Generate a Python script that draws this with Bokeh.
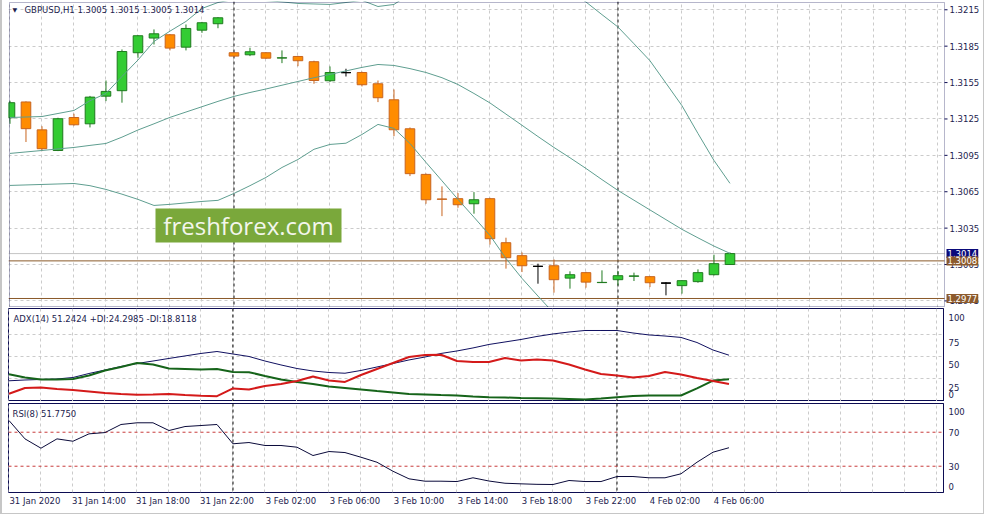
import numpy as np
import pandas as pd
from bokeh.plotting import figure
from bokeh.layouts import column
from bokeh.models import (Range1d, FixedTicker, Span, Label, BoxAnnotation,
                          ColumnDataSource)
from bokeh.embed import file_html
from bokeh.resources import INLINE

# ---------------- data ----------------
times = (list(pd.date_range("2020-01-31 10:00", "2020-01-31 23:00", freq="h")) +
         list(pd.date_range("2020-02-03 00:00", "2020-02-04 07:00", freq="h")))

opens = [1.31260, 1.31390, 1.31160, 1.30990, 1.31262, 1.31210, 1.31438, 1.31483, 1.31796, 1.31917,
         1.31944, 1.31842, 1.31982, 1.32035, 1.31796, 1.31779, 1.31796, 1.31752, 1.31765, 1.31722,
         1.31565, 1.31632, 1.31633, 1.31540, 1.31408, 1.31169, 1.30793, 1.30590, 1.30593, 1.30551,
         1.30593, 1.30230, 1.30123, 1.30035, 1.30040, 1.29938, 1.29983, 1.29901, 1.29925, 1.29953,
         1.29950, 1.29897, 1.29876, 1.29909, 1.29966, 1.30050]
highs = [1.31400, 1.31395, 1.31190, 1.31260, 1.31293, 1.31440, 1.31567, 1.31823, 1.31940, 1.31988,
         1.31950, 1.32029, 1.32050, 1.32090, 1.31800, 1.31837, 1.31800, 1.31815, 1.31770, 1.31730,
         1.31683, 1.31664, 1.31640, 1.31567, 1.31493, 1.31180, 1.30800, 1.30694, 1.30639, 1.30647,
         1.30600, 1.30271, 1.30150, 1.30057, 1.30092, 1.29994, 1.29990, 1.30002, 1.29996, 1.29983,
         1.29955, 1.29905, 1.29920, 1.30010, 1.30131, 1.30150]
lows = [1.31210, 1.31060, 1.30985, 1.30985, 1.31195, 1.31180, 1.31397, 1.31384, 1.31754, 1.31864,
        1.31815, 1.31815, 1.31960, 1.31998, 1.31760, 1.31768, 1.31745, 1.31710, 1.31685, 1.31540,
        1.31555, 1.31600, 1.31518, 1.31389, 1.31108, 1.30779, 1.30551, 1.30449, 1.30518, 1.30469,
        1.30214, 1.30016, 1.29988, 1.29892, 1.29818, 1.29851, 1.29859, 1.29900, 1.29878, 1.29914,
        1.29864, 1.29796, 1.29810, 1.29900, 1.29960, 1.30050]
closes = [1.31384, 1.31170, 1.31005, 1.31252, 1.31202, 1.31430, 1.31477, 1.31806, 1.31936, 1.31952,
          1.31834, 1.31996, 1.32043, 1.32084, 1.31768, 1.31804, 1.31751, 1.31754, 1.31730, 1.31567,
          1.31633, 1.31632, 1.31532, 1.31425, 1.31161, 1.30799, 1.30584, 1.30588, 1.30543, 1.30584,
          1.30263, 1.30106, 1.30040, 1.30035, 1.29925, 1.29966, 1.29905, 1.29903, 1.29958, 1.29956,
          1.29900, 1.29897, 1.29917, 1.29983, 1.30057, 1.30140]

bb_upper = [1.31262, 1.31266, 1.31270, 1.31295, 1.31320, 1.31400, 1.31460, 1.31600, 1.31736, 1.31889,
            1.31974, 1.32054, 1.32161, 1.32210, 1.32236, 1.32232, 1.32226, 1.32215, 1.32202, 1.32198,
            1.32194, 1.32210, 1.32228, 1.32177, 1.32194, 1.32282, 1.32374, 1.32430, 1.32481, 1.32480,
            1.32474, 1.32467, 1.32460, 1.32420, 1.32383, 1.32300, 1.32214, 1.32110, 1.32008, 1.31870,
            1.31730, 1.31545, 1.31359, 1.31130, 1.30908, 1.30719]
bb_middle = [1.30966, 1.30978, 1.30990, 1.31003, 1.31015, 1.31032, 1.31048, 1.31100, 1.31159, 1.31210,
             1.31263, 1.31307, 1.31351, 1.31395, 1.31436, 1.31468, 1.31497, 1.31528, 1.31559, 1.31590,
             1.31617, 1.31646, 1.31675, 1.31699, 1.31691, 1.31665, 1.31633, 1.31590, 1.31534, 1.31460,
             1.31382, 1.31290, 1.31198, 1.31105, 1.31015, 1.30930, 1.30842, 1.30750, 1.30661, 1.30580,
             1.30500, 1.30420, 1.30340, 1.30270, 1.30202, 1.30142]
bb_lower = [1.30702, 1.30706, 1.30710, 1.30714, 1.30718, 1.30700, 1.30669, 1.30630, 1.30587, 1.30537,
            1.30546, 1.30558, 1.30570, 1.30579, 1.30636, 1.30700, 1.30768, 1.30850, 1.30916, 1.31000,
            1.31040, 1.31050, 1.31122, 1.31205, 1.31172, 1.31048, 1.30892, 1.30740, 1.30587, 1.30440,
            1.30290, 1.30100, 1.29936, 1.29790, 1.29647, 1.29560, 1.29470, 1.29390, 1.29314, 1.29290,
            1.29270, 1.29295, 1.29321, 1.29410, 1.29496, 1.29565]

adx = [22.5, 23.4, 24.0, 24.5, 26.2, 30.7, 34.6, 38.6, 41.9, 44.7,
       47.6, 50.4, 53.2, 55.4, 52.6, 49.8, 44.7, 40.3, 36.3, 33.5,
       31.8, 31.0, 34.1, 38.0, 41.9, 45.9, 49.2, 53.2, 56.0, 59.4,
       63.3, 66.1, 68.9, 72.3, 75.1, 77.3, 79.0, 79.0, 79.0, 76.2,
       74.0, 72.8, 71.2, 65.5, 57.1, 51.2424]
plus_di = [29.9, 26.2, 24.0, 24.0, 24.5, 28.5, 34.1, 38.0, 42.5, 40.8,
           36.3, 35.8, 35.2, 35.8, 32.4, 32.2, 27.9, 24.0, 21.2, 18.9,
           16.1, 14.4, 12.7, 11.0, 9.4, 7.7, 7.1, 6.5, 6.0, 4.9,
           4.1, 3.7, 3.2, 2.9, 2.6, 2.1, 1.5, 2.6, 4.1, 5.4,
           6.0, 6.0, 6.0, 13.9, 22.8, 24.2985]
minus_di = [7.9, 14.4, 15.0, 13.3, 12.2, 10.5, 8.8, 7.7, 6.8, 7.1,
            7.7, 6.5, 5.6, 5.2, 13.9, 12.7, 16.7, 18.9, 22.3, 27.3,
            22.8, 21.2, 29.0, 35.8, 42.5, 49.2, 51.5, 51.7, 44.7, 43.6,
            43.6, 48.1, 45.3, 46.4, 45.3, 40.8, 35.2, 30.1, 28.5, 26.2,
            27.9, 32.4, 29.6, 25.6, 22.3, 18.8118]
rsi = [83.8, 62.2, 51.2, 62.2, 59.4, 68.1, 69.6, 79.1, 81.1, 81.1,
       72.0, 76.7, 77.9, 79.1, 56.4, 57.9, 54.4, 54.4, 52.4, 42.6,
       47.3, 46.1, 40.6, 34.7, 24.1, 15.2, 12.4, 12.4, 12.0, 16.4,
       12.6, 10.0, 9.3, 8.7, 8.5, 13.2, 12.0, 12.0, 17.9, 17.9,
       16.4, 16.4, 21.1, 34.7, 46.5, 51.775]

price_ticks = [1.2975, 1.3005, 1.3035, 1.3065, 1.3095, 1.3125, 1.3155, 1.3185, 1.3215]
levels = [1.3008, 1.2977]
adx_tick_labels = ["100", "75", "50", "25", "0"]
adx_grid_values = [25, 50, 75]
rsi_tick_labels = ["100", "70", "30", "0"]
rsi_levels = [70, 30]

# ---------------- style ----------------
NAVY = "#0c0c52"
TEXT = "#1c1c4e"
GRID = "#cbcbcb"
FONT = "DejaVu Sans"
FS = "8.5px"
BULL_FILL, BULL_LINE = "#33cc33", "#1f7a1f"
BEAR_FILL, BEAR_LINE = "#ff8c00", "#c8641e"
DOJI = "#000000"
BAND = "#5f9e90"
LEVEL = "#8a5a2a"

FRAME_W = 935          # width of every panel frame (px)
BAR_PX = 16            # px per bar
x0 = -0.03             # bar value at the frame's left edge
x_edge = x0 + FRAME_W / BAR_PX
PX_PRICE = 12130.0     # px per price unit in main panel
main_top, main_bot = 1.32210, 1.29704   # price at frame top / bottom

n = len(opens)
idx = np.arange(n)
o = np.array(opens); h = np.array(highs); l = np.array(lows); c = np.array(closes)
up = c > o
down = c < o
fill = np.where(up, BULL_FILL, np.where(down, BEAR_FILL, DOJI))
line = np.where(up, BULL_LINE, np.where(down, BEAR_LINE, DOJI))

src = ColumnDataSource(dict(x=idx, o=o, h=h, l=l, c=c,
                            top=np.maximum(o, c), bottom=np.minimum(o, c),
                            fill=fill, line=line))
doji_mask = (o == c)
dsrc = ColumnDataSource(dict(x0=idx[doji_mask] - 0.3, x1=idx[doji_mask] + 0.3, y=o[doji_mask]))

day_starts = [i for i in range(1, n) if times[i].date() != times[i - 1].date()]
grid_bars = list(range(0, 59, 2))


def style_axis(ax):
    ax.axis_line_color = NAVY
    ax.major_tick_line_color = None
    ax.major_tick_in = 0
    ax.major_tick_out = 3
    ax.minor_tick_line_color = None
    ax.major_label_standoff = 2
    ax.major_label_text_font = FONT
    ax.major_label_text_font_size = FS
    ax.major_label_text_color = TEXT


def add_grid_and_days(p):
    p.xgrid.ticker = FixedTicker(ticks=grid_bars)
    p.xgrid.grid_line_color = GRID
    p.xgrid.grid_line_dash = "3 3"
    p.ygrid.grid_line_color = GRID
    p.ygrid.grid_line_dash = "3 3"
    for k in day_starts:
        p.add_layout(Span(location=k, dimension="height", line_color="black",
                          line_dash="3 3", line_width=1, level="underlay"))


# ---------------- main price panel (frame spans the price scale too) ----------------
pad_y = 1 / PX_PRICE
MAIN_W = 976
p1 = figure(frame_width=MAIN_W, frame_height=306,
            x_range=Range1d(x0 - 1 / BAR_PX, x0 - 1 / BAR_PX + MAIN_W / BAR_PX),
            y_range=Range1d(main_bot - pad_y, main_top + pad_y),
            output_backend="svg", toolbar_location=None,
            x_axis_location=None, y_axis_location=None,
            min_border_left=5, min_border_right=0, min_border_top=1, min_border_bottom=0,
            background_fill_color="white", border_fill_color="white", outline_line_color=None)
add_grid_and_days(p1)
p1.ygrid.ticker = FixedTicker(ticks=price_ticks)

p1.add_layout(BoxAnnotation(left=x0 + 146 / BAR_PX, right=x0 + 332 / BAR_PX,
                            bottom=1.30232, top=1.30512, fill_color="#7aa83b",
                            fill_alpha=1, line_color=None, level="underlay"))
p1.add_layout(Label(x=x0 + 239 / BAR_PX, y=1.30372, text="freshforex.com",
                    text_font="Open Sans", text_font_size="24px", text_color="#f3f6ec",
                    text_align="center", text_baseline="middle"))

p1.add_layout(Span(location=closes[-1], dimension="width", line_color="#c4c4c4",
                   line_width=1, level="underlay"))
for lv in levels:
    p1.add_layout(Span(location=lv, dimension="width", line_color=LEVEL,
                       line_width=1, level="underlay"))
# blank price-scale area to the right of the frame
p1.add_layout(BoxAnnotation(left=x_edge, fill_color="white", fill_alpha=1,
                            line_color=None, level="underlay"))

p1.segment(x0="x", y0="h", x1="x", y1="l", color="line", line_width=1, source=src)
p1.vbar(x="x", top="top", bottom="bottom", width=0.6, fill_color="fill",
        line_color="line", line_width=1, source=src)
p1.segment(x0="x0", y0="y", x1="x1", y1="y", color=DOJI, line_width=1, source=dsrc)

for band in (bb_upper, bb_middle, bb_lower):
    p1.line(idx, band, line_color=BAND, line_width=1)

# frame border of the price panel
p1.add_layout(BoxAnnotation(left=x0, right=x_edge, bottom=main_bot, top=main_top,
                            fill_color=None, line_color=NAVY, line_width=1, level="overlay"))

# price scale: tick marks and labels
p1.segment(x0=[x_edge] * len(price_ticks), x1=[x_edge + 3 / BAR_PX] * len(price_ticks),
           y0=price_ticks, y1=price_ticks, color=NAVY, line_width=1)
for t in price_ticks:
    p1.add_layout(Label(x=x_edge + 5 / BAR_PX, y=t, text="{:.4f}".format(t), text_font=FONT,
                        text_font_size=FS, text_color=TEXT, text_baseline="middle",
                        text_align="left", level="overlay"))

title = "GBPUSD,H1  {:.4f} {:.4f} {:.4f} {:.4f}".format(opens[-1], highs[-1], lows[-1], closes[-1])
p1.add_layout(Label(x=x0 + 3 / BAR_PX, y=1.32152, text="\u25BC", text_font=FONT,
                    text_font_size="6px", text_color=TEXT, text_baseline="middle"))
p1.add_layout(Label(x=x0 + 15 / BAR_PX, y=1.32152, text=title, text_font=FONT,
                    text_font_size=FS, text_color=TEXT, text_baseline="middle"))

tag_x = x_edge + 2 / BAR_PX
for val, bg in ((closes[-1], "#0a0a7a"), (levels[0], "#8c5a2c"), (levels[1], "#8c5a2c")):
    p1.add_layout(Label(x=tag_x, y=val, text="{:.4f}".format(val), text_font=FONT,
                        text_font_size=FS, text_color="white", text_baseline="middle",
                        text_align="left", background_fill_color=bg, padding=1,
                        level="overlay"))


# ---------------- indicator panels ----------------
def make_fig(frame_h, yr, top_border, with_xaxis=False):
    p = figure(frame_width=FRAME_W, frame_height=frame_h,
               x_range=Range1d(x0, x_edge), y_range=yr,
               output_backend="svg", toolbar_location=None,
               x_axis_location="below" if with_xaxis else None,
               y_axis_location="right",
               min_border_left=6, min_border_right=2, min_border_top=top_border,
               min_border_bottom=21 if with_xaxis else 0,
               background_fill_color="white", border_fill_color="white",
               outline_line_color=NAVY, outline_line_width=1)
    add_grid_and_days(p)
    style_axis(p.yaxis[0])
    return p


p2 = make_fig(93, Range1d(-0.76, 103.7), 1)
adx_label_pos = [94.0, 65.9, 41.2, 15.3, 6.8]
p2.yaxis[0].ticker = FixedTicker(ticks=adx_label_pos)
p2.yaxis[0].major_label_overrides = {pos: lab for pos, lab in zip(adx_label_pos, adx_tick_labels)}
p2.ygrid.ticker = FixedTicker(ticks=adx_grid_values)
p2.line(idx, adx, line_color="#101060", line_width=1)
p2.line(idx, plus_di, line_color="#16641a", line_width=2)
p2.line(idx, minus_di, line_color="#d41a1a", line_width=2)
p2.add_layout(Label(x=x0 + 5 / BAR_PX, y=91.4,
                    text="ADX(14) {:.4f} +DI:{:.4f} -DI:{:.4f}".format(adx[-1], plus_di[-1], minus_di[-1]),
                    text_font=FONT, text_font_size=FS, text_color=TEXT, text_baseline="middle"))

p3 = make_fig(89, Range1d(-0.9, 103.8), 2, with_xaxis=True)
rsi_label_pos = [94.7, 70, 30, 6.1]
p3.yaxis[0].ticker = FixedTicker(ticks=rsi_label_pos)
p3.yaxis[0].major_label_overrides = {pos: lab for pos, lab in zip(rsi_label_pos, rsi_tick_labels)}
p3.ygrid.grid_line_color = None
for lv in rsi_levels:
    p3.add_layout(Span(location=lv, dimension="width", line_color="#c83c3c",
                       line_dash="3 3", line_width=1, level="underlay"))
p3.line(idx, rsi, line_color="#0a0a3a", line_width=1)
p3.add_layout(Label(x=x0 + 4 / BAR_PX, y=91.6, text="RSI(8) {:.4f}".format(rsi[-1]),
                    text_font=FONT, text_font_size=FS, text_color=TEXT, text_baseline="middle"))

label_bars = list(range(0, n, 4))
time_labels = [times[k].strftime("%-d %b %Y") if k == 0 else times[k].strftime("%-d %b %H:%M")
               for k in label_bars]
LABEL_SHIFT = 1.62
tick_pos = [k + LABEL_SHIFT for k in label_bars]
xa = p3.xaxis[0]
xa.ticker = FixedTicker(ticks=tick_pos)
xa.major_label_overrides = {pos: lab for pos, lab in zip(tick_pos, time_labels)}
xa.axis_line_color = None
xa.major_tick_line_color = None
xa.major_tick_out = 2
xa.major_tick_in = 0
xa.minor_tick_line_color = None
xa.major_label_standoff = 1
xa.major_label_text_font = FONT
xa.major_label_text_font_size = FS
xa.major_label_text_color = TEXT

layout = column(p1, p2, p3, spacing=0,
                styles={"border-left": "2px solid #c6c6c6",
                        "border-right": "1px solid #c6c6c6",
                        "border-bottom": "1px solid #c6c6c6"})
open("out.html", "w").write(file_html(layout, INLINE))
